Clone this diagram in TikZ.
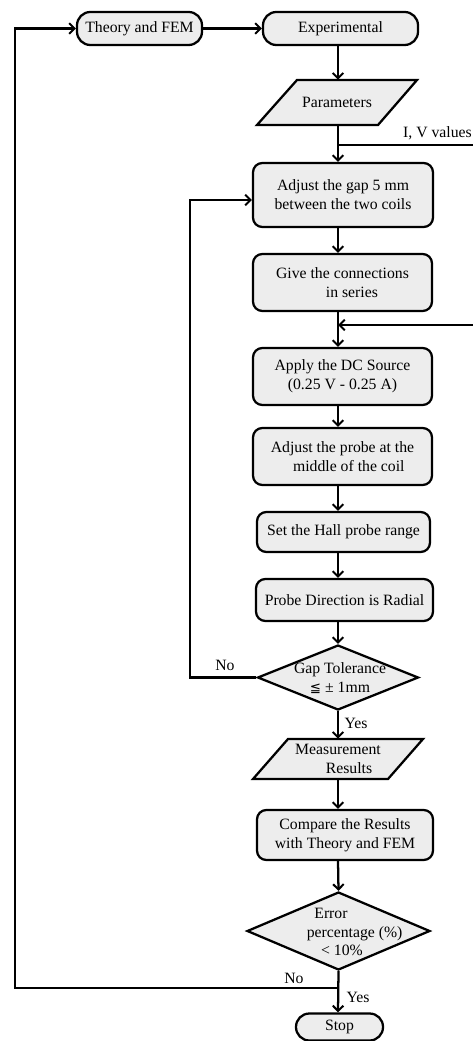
\documentclass[tikz,border=0pt]{standalone}
\usepackage{fontspec}
\setmainfont{Liberation Serif}
\newfontfamily\symfont{DejaVu Sans}
\usetikzlibrary{shapes.geometric,arrows.meta,calc}
\definecolor{boxfill}{RGB}{237,237,237}
\begin{document}
\begin{tikzpicture}[x=0.75pt,y=-0.75pt,
  every node/.style={font=\fontsize{11.8}{14.2}\selectfont},
  box/.style={draw,line width=1.7pt,fill=boxfill,rounded corners=7pt,align=center,inner sep=1pt},
  term/.style={draw,line width=1.7pt,fill=boxfill,rounded corners=10pt,align=center,inner sep=1pt},
  dec/.style={draw,line width=1.7pt,fill=boxfill,diamond,inner sep=0pt},
  iotext/.style={align=center,inner sep=1pt},
  iobox/.style={draw,line width=1.7pt,fill=boxfill},
  arr/.style={line width=1.7pt,-{Straight Barb[length=4pt,width=8pt,line width=1.5pt]}},
  ln/.style={line width=1.7pt},
  lbl/.style={inner sep=0pt}]
\useasboundingbox (0,0) rectangle (473,1041);
\coordinate (sx) at (338,0);
% terminals
\node[term,minimum width=93.75pt,minimum height=24.75pt] (theory) at (139.5,28.5) {Theory and FEM};
\node[term,minimum width=116.25pt,minimum height=24.75pt] (exper) at (340.5,28.5) {Experimental};
% parameters
\draw[iobox] (297,80) -- (417,80) -- (378,125) -- (257,125) -- cycle;
\node[iotext,minimum height=33.75pt] (param) at (337,102.5) {Parameters};
% process boxes
\node[box,minimum width=135pt,minimum height=48pt] (adjgap) at (343,195) {Adjust the gap 5 mm\\between the two coils};
\node[box,minimum width=134.25pt,minimum height=42.75pt] (conn) at (342.5,282.5) {Give the connections\\\hspace*{1.2em}in series};
\node[box,minimum width=134.25pt,minimum height=42.75pt] (apply) at (342.5,376.5) {Apply the DC Source\\(0.25 V - 0.25 A)};
\node[box,minimum width=134.25pt,minimum height=42.75pt] (probe) at (342.5,456.5) {Adjust the probe at the\\\hspace*{0.8em}middle of the coil};
\node[box,minimum width=129.75pt,minimum height=30pt] (hall) at (343.5,532) {Set the Hall probe range};
\node[box,minimum width=132.75pt,minimum height=31.5pt] (dir) at (344.5,600) {Probe Direction is Radial};
\node[dec,minimum width=120.75pt,minimum height=48.75pt] (gap) at (338,677.5) {};
\node[iotext] (gaptxt) at (340,678) {Gap Tolerance\\{\symfont\fontsize{10}{12}\selectfont ≦} ± 1mm};
% measurement results
\draw[iobox] (288,739) -- (423,739) -- (388,779) -- (253,779) -- cycle;
\node[iotext,minimum height=30pt] (meas) at (338,759) {Measurement\\\hspace*{1.4em}Results};
\node[box,minimum width=132pt,minimum height=37.5pt] (comp) at (345,835) {Compare the Results\\with Theory and FEM};
\node[dec,minimum width=137.25pt,minimum height=58.5pt] (err) at (338.5,931) {};
\node[iotext] (errtxt) at (342,932) {Error\hspace*{1.4em}\\\hspace*{1.6em}percentage (\%)\\< 10\%};
\node[term,minimum width=65.25pt,minimum height=20.25pt] (stop) at (339.5,1027) {Stop};
% coordinates for branches
\coordinate (iv) at (338,145);
\coordinate (ivr) at (473,145);
\coordinate (dcj) at (338,325);
\coordinate (dcr) at (473,325);
\coordinate (gl) at (190,677.5);
\coordinate (gt) at (190,200);
\coordinate (ej) at (338,988);
\coordinate (el) at (15,988);
\coordinate (et) at (15,28.5);
% connectors
\draw[arr] (theory) -- (exper);
\draw[arr] (exper.south -| sx) -- (param.north -| sx);
\draw[arr] (param.south -| sx) -- (adjgap.north -| sx);
\draw[ln] (iv) -- (ivr);
\draw[arr] (adjgap.south -| sx) -- (conn.north -| sx);
\draw[arr] (conn.south -| sx) -- (apply.north -| sx);
\draw[arr] (dcr) -- (dcj);
\draw[arr] (apply.south -| sx) -- (probe.north -| sx);
\draw[arr] (probe.south -| sx) -- (hall.north -| sx);
\draw[arr] (hall.south -| sx) -- (dir.north -| sx);
\draw[arr] (dir.south -| sx) -- (gap.north);
\draw[arr] (gap.west) -- (gl) -- (gt) -- (gt -| adjgap.west);
\draw[arr] (gap.south) -- (meas.north -| sx);
\draw[arr] (meas.south -| sx) -- (comp.north -| sx);
\draw[arr] (comp.south -| sx) -- (err.north);
\draw[arr] (err.south) -- (stop.north -| sx);
\draw[arr] (ej) -- (el) -- (et) -- (theory.west);
% labels
\node[lbl,anchor=east] (ivlbl) at (472,133) {I, V values};
\node[lbl] (no1) at (225,665) {No};
\node[lbl] (yes1) at (356,723) {Yes};
\node[lbl] (no2) at (294,978) {No};
\node[lbl] (yes2) at (358,997) {Yes};
\end{tikzpicture}
\end{document}
